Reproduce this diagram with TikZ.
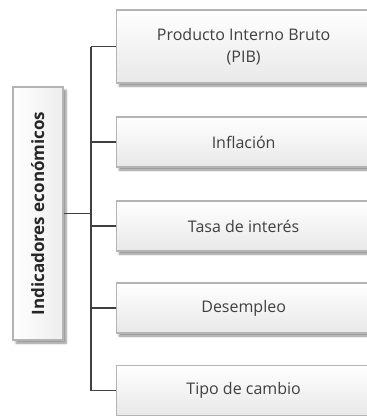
\documentclass[tikz,border=0pt]{standalone}
\usepackage{fontspec}
\setmainfont{Open Sans}
\usetikzlibrary{shadows.blur}
\definecolor{txt}{HTML}{404040}
\definecolor{bord}{HTML}{B4B4B4}
\definecolor{lin}{HTML}{404040}
\tikzset{
  itembox/.style={draw=bord, line width=1.3pt, top color=white, bottom color=black!9,
    blur shadow={shadow xshift=2.5pt, shadow yshift=-3pt, shadow blur steps=6, shadow opacity=45},
    minimum width=254pt, inner sep=0pt, align=center, text=txt,
    font=\fontsize{16}{22}\selectfont, anchor=west},
  rootbox/.style={draw=bord, line width=1.3pt, left color=white, right color=black!7,
    blur shadow={shadow xshift=3pt, shadow yshift=-3pt, shadow blur steps=6, shadow opacity=45},
    minimum width=50pt, minimum height=253pt, inner sep=0pt, text=black!85,
    font=\bfseries\fontsize{17}{20}\selectfont},
  conn/.style={draw=lin, line width=1.4pt}
}
\begin{document}
\begin{tikzpicture}[x=1pt,y=-1pt]
\useasboundingbox (0,0) rectangle (367,416);
\begin{scope}
\clip (0,0) rectangle (367,416);
\node[rootbox] (L) at (38,213.5) {\rotatebox{90}{\raisebox{-6pt}[0pt][0pt]{Indicadores económicos}}};
\node[itembox, minimum height=73pt] (b1) at (116,46.5) {Producto Interno Bruto\\(PIB)};
\node[itembox, minimum height=50pt] (b2) at (116,142) {Inflación};
\node[itembox, minimum height=50pt] (b3) at (116,226) {Tasa de interés};
\node[itembox, minimum height=50pt] (b4) at (116,308) {Desempleo};
\node[itembox, minimum height=50pt] (b5) at (116,390.5) {Tipo de cambio};
\coordinate (t) at (91,0);
\draw[conn] (b1.west -| t) -- (b5.west -| t);
\draw[conn] (L.east) -- (L.east -| t);
\foreach \b in {b1,b2,b3,b4,b5}{
  \draw[conn] (\b.west -| t) -- (\b.west);
}
\end{scope}
\end{tikzpicture}
\end{document}
